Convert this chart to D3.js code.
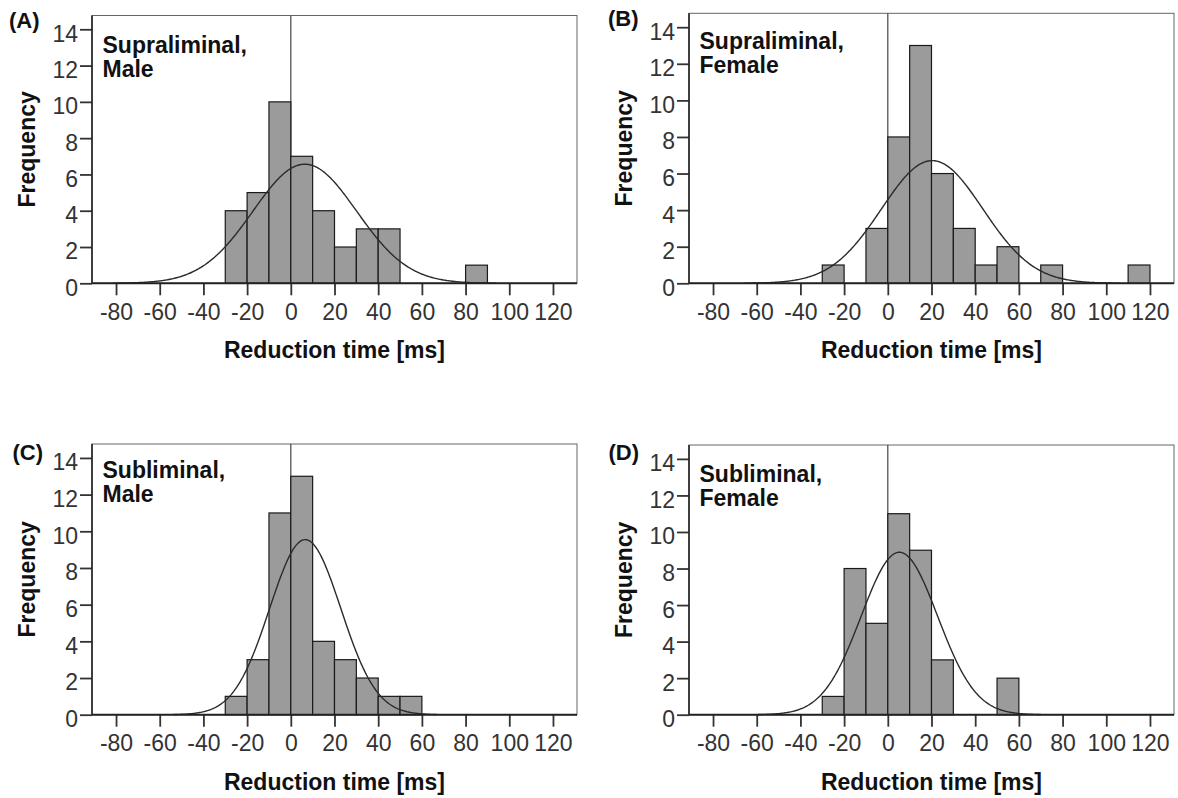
<!DOCTYPE html>
<html>
<head>
<meta charset="utf-8">
<script src="https://cdn.jsdelivr.net/npm/d3@7"></script>
<style>
  body { margin: 0; background: #fff; }
  svg { display: block; }
  .tick-label { font-family: "Liberation Sans", Arial, sans-serif; font-size: 23px; fill: #333; }
  .bold-label { font-family: "Liberation Sans", Arial, sans-serif; font-size: 23px; font-weight: bold; fill: #111; }
  .letter-label { font-family: "Liberation Sans", Arial, sans-serif; font-size: 22px; font-weight: bold; fill: #111; }
</style>
</head>
<body>
<div id="chart"></div>
<script>
// bins are 10 ms wide, these are the left edges
var binStarts = [-30, -20, -10, 0, 10, 20, 30, 40, 50, 60, 70, 80, 90, 100, 110];

var countsSupraMale   = [4, 5, 10, 7, 4, 2, 3, 3, 0, 0, 0, 1, 0, 0, 0];
var countsSupraFemale = [1, 0, 3, 8, 13, 6, 3, 1, 2, 0, 1, 0, 0, 0, 1];
var countsSubMale     = [1, 3, 11, 13, 4, 3, 2, 1, 1, 0, 0, 0, 0, 0, 0];
var countsSubFemale   = [1, 8, 5, 11, 9, 3, 0, 0, 2, 0, 0, 0, 0, 0, 0];

// fitted normal curve (centre and spread)
var curveMeans = [6.4, 20.3, 6.6, 5.3];
var curveSds = [23.7, 23.2, 16.3, 17.5];

var panelLetters = ["(A)", "(B)", "(C)", "(D)"];
var panelTitles = [["Supraliminal,", "Male"], ["Supraliminal,", "Female"],
                   ["Subliminal,", "Male"], ["Subliminal,", "Female"]];

var xTicks = [-80, -60, -40, -20, 0, 20, 40, 60, 80, 100, 120];
var yTicks = [0, 2, 4, 6, 8, 10, 12, 14];
var xDomain = [-91, 131];
var yDomain = [0, 14.76];

var xTitle = "Reduction time [ms]";
var yTitle = "Frequency";

var svg = d3.select("#chart").append("svg")
  .attr("width", 1178)
  .attr("height", 798);

HistPanel = function(_svg, _box, _counts, _mean, _sd, _letter, _title) {
  this.svg = _svg;
  this.box = _box;
  this.counts = _counts;
  this.mean = _mean;
  this.sd = _sd;
  this.letter = _letter;
  this.title = _title;
  this.initVis();
};

HistPanel.prototype.initVis = function() {
  var vis = this;
  var b = vis.box;

  vis.x = d3.scaleLinear().domain(xDomain).range([b.left, b.right]);
  vis.y = d3.scaleLinear().domain(yDomain).range([b.bottom, b.top]);

  vis.g = vis.svg.append("g");

  // frame
  vis.g.append("rect")
    .attr("x", b.left)
    .attr("y", b.top)
    .attr("width", b.right - b.left)
    .attr("height", b.bottom - b.top)
    .attr("fill", "none")
    .attr("stroke", "#666")
    .attr("stroke-width", 1);

  // reference line at 0
  vis.g.append("line")
    .attr("x1", vis.x(0)).attr("x2", vis.x(0))
    .attr("y1", b.top).attr("y2", b.bottom)
    .attr("stroke", "#444")
    .attr("stroke-width", 1.2);

  vis.updateVis();
};

HistPanel.prototype.updateVis = function() {
  var vis = this;
  var b = vis.box;

  var bins = binStarts.map(function(d, i) {
    return {x0: d, x1: d + 10, n: vis.counts[i]};
  }).filter(function(d) { return d.n > 0; });

  vis.g.selectAll(".bar")
    .data(bins)
    .enter().append("rect")
    .attr("class", "bar")
    .attr("x", function(d) { return vis.x(d.x0); })
    .attr("y", function(d) { return vis.y(d.n); })
    .attr("width", function(d) { return vis.x(d.x1) - vis.x(d.x0); })
    .attr("height", function(d) { return vis.y(0) - vis.y(d.n); })
    .attr("fill", "#9b9b9b")
    .attr("stroke", "#1a1a1a")
    .attr("stroke-width", 1.2);

  // normal curve scaled to counts
  var total = d3.sum(vis.counts);
  var scale = total * 10 / (vis.sd * Math.sqrt(2 * Math.PI));
  var lo = Math.max(xDomain[0], vis.mean - 3.7 * vis.sd);
  var hi = Math.min(xDomain[1], vis.mean + 3.7 * vis.sd);
  var pts = d3.range(lo, hi, 0.5).concat([hi]).map(function(t) {
    var z = (t - vis.mean) / vis.sd;
    return [t, scale * Math.exp(-0.5 * z * z)];
  });
  var line = d3.line()
    .x(function(d) { return vis.x(d[0]); })
    .y(function(d) { return vis.y(d[1]); });
  vis.g.append("path")
    .attr("d", line(pts))
    .attr("fill", "none")
    .attr("stroke", "#2b2b2b")
    .attr("stroke-width", 1.4);

  // axes (plain hyphen for negatives, like the original)
  var fmt = function(d) { return String(d); };
  var xAxis = d3.axisBottom(vis.x).tickValues(xTicks).tickSize(12).tickPadding(8).tickFormat(fmt);
  var xg = vis.g.append("g")
    .attr("transform", "translate(0," + b.bottom + ")")
    .call(xAxis);
  xg.select(".domain").remove();
  xg.selectAll(".tick line").attr("stroke", "#333").attr("stroke-width", 1.8);
  xg.selectAll(".tick text").attr("class", "tick-label");

  var yAxis = d3.axisLeft(vis.y).tickValues(yTicks).tickSize(12).tickPadding(2).tickFormat(fmt);
  var yg = vis.g.append("g")
    .attr("transform", "translate(" + b.left + ",0)")
    .call(yAxis);
  yg.select(".domain").remove();
  yg.selectAll(".tick line").attr("stroke", "#333").attr("stroke-width", 1.8);
  yg.selectAll(".tick text").attr("class", "tick-label").attr("dy", "0.52em");

  vis.g.selectAll(".tick text").attr("font-size", null).attr("font-family", null);

  // axis lines
  vis.g.append("line")
    .attr("x1", b.left).attr("x2", b.right)
    .attr("y1", b.bottom).attr("y2", b.bottom)
    .attr("stroke", "#222").attr("stroke-width", 2);
  vis.g.append("line")
    .attr("x1", b.left).attr("x2", b.left)
    .attr("y1", b.top).attr("y2", b.bottom)
    .attr("stroke", "#222").attr("stroke-width", 1.6);

  // labels
  vis.g.append("text")
    .attr("class", "bold-label")
    .attr("x", (b.left + b.right) / 2)
    .attr("y", b.bottom + 75)
    .attr("text-anchor", "middle")
    .text(xTitle);

  vis.g.append("text")
    .attr("class", "bold-label")
    .attr("transform", "translate(" + (b.left - 57.5) + "," + ((b.top + b.bottom) / 2) + ") rotate(-90)")
    .attr("text-anchor", "middle")
    .text(yTitle);

  vis.g.append("text")
    .attr("class", "letter-label")
    .attr("x", b.letterX)
    .attr("y", b.letterY)
    .text(vis.letter);

  vis.g.selectAll(".panel-title")
    .data(vis.title)
    .enter().append("text")
    .attr("class", "bold-label panel-title")
    .attr("x", b.left + 10.5)
    .attr("y", function(d, i) { return b.titleY + i * 24; })
    .text(function(d) { return d; });
};

var boxes = [
  {left: 92, right: 577, top: 15.5, bottom: 283.3, letterX: 9, letterY: 28.3, titleY: 53.3},
  {left: 689, right: 1174, top: 13.3, bottom: 283.3, letterX: 608, letterY: 26, titleY: 49},
  {left: 92, right: 577, top: 444, bottom: 714.7, letterX: 12.5, letterY: 459.5, titleY: 477.5},
  {left: 689, right: 1174, top: 445, bottom: 714.7, letterX: 608.5, letterY: 460, titleY: 482}
];
var allCounts = [countsSupraMale, countsSupraFemale, countsSubMale, countsSubFemale];

boxes.forEach(function(b, i) {
  new HistPanel(svg, b, allCounts[i], curveMeans[i], curveSds[i], panelLetters[i], panelTitles[i]);
});
</script>
</body>
</html>
